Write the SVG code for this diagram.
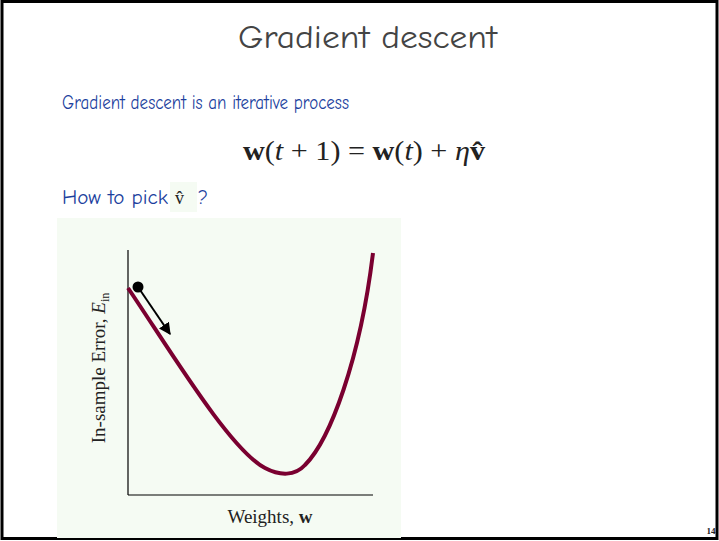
<svg xmlns="http://www.w3.org/2000/svg" width="719" height="541" viewBox="0 0 719 541">
<style>
.comic{font-family:"Comic Sans MS","Comic Neue","DejaVu Sans",sans-serif;}
.blue{fill:#1c3f9e;font-size:20px;}
.serif{font-family:"Liberation Serif","DejaVu Serif",serif;fill:#222;}
</style>
<defs>
<marker id="ah" viewBox="0 0 10 10" refX="9" refY="5" markerWidth="6" markerHeight="6" orient="auto" markerUnits="strokeWidth">
<path d="M0,0 L10,5 L0,10 z" fill="#000"/>
</marker>
</defs>
<rect x="0" y="0" width="719" height="541" fill="#fff"/>
<rect x="2" y="1.5" width="715" height="537" fill="none" stroke="#000" stroke-width="3"/>
<text class="comic" x="238" y="48" font-size="32" fill="#444" textLength="259" lengthAdjust="spacingAndGlyphs">Gradient descent</text>
<text class="comic blue" x="62" y="109" textLength="287" lengthAdjust="spacingAndGlyphs">Gradient descent is an iterative process</text>
<text class="serif" x="243" y="160" font-size="28" textLength="242" lengthAdjust="spacingAndGlyphs"><tspan font-weight="bold">w</tspan>(<tspan font-style="italic">t</tspan> + 1) = <tspan font-weight="bold">w</tspan>(<tspan font-style="italic">t</tspan>) + <tspan font-style="italic">η</tspan><tspan font-weight="bold">v̂</tspan></text>
<rect x="170" y="182" width="27" height="30" fill="#f5fbf3"/>
<text class="comic blue" x="62" y="204" textLength="106" lengthAdjust="spacingAndGlyphs">How to pick</text>
<text class="serif" x="175" y="204" font-size="18">v̂</text>
<text class="comic blue" x="198" y="204">?</text>
<rect x="57" y="218" width="344" height="320" fill="#f5fbf3"/>
<g id="axes" stroke="#000" stroke-width="1.2" fill="none">
<line x1="128" y1="250" x2="128" y2="495"/>
<line x1="128" y1="495" x2="373" y2="495"/>
</g>
<g id="curve">
<path d="M128,288 C170,350 230,450 265,468 C280,476 295,476 305,465 C330,440 360,360 373,253" fill="none" stroke="#7a0030" stroke-width="4"/>
</g>
<g id="connectors">
<line x1="138" y1="287" x2="170" y2="334" stroke="#000" stroke-width="2" marker-end="url(#ah)"/>
</g>
<g id="ball"><circle cx="138" cy="287" r="5.5" fill="#000"/></g>
<text class="serif" transform="translate(105,368) rotate(-90)" text-anchor="middle" font-size="19">In-sample Error, <tspan font-style="italic">E</tspan><tspan font-size="12" dy="4">in</tspan></text>
<text class="serif" x="270" y="523" text-anchor="middle" font-size="19">Weights, <tspan font-weight="bold">w</tspan></text>
<text class="serif" x="711" y="534" text-anchor="middle" font-size="9" font-weight="bold">14</text>
</svg>
